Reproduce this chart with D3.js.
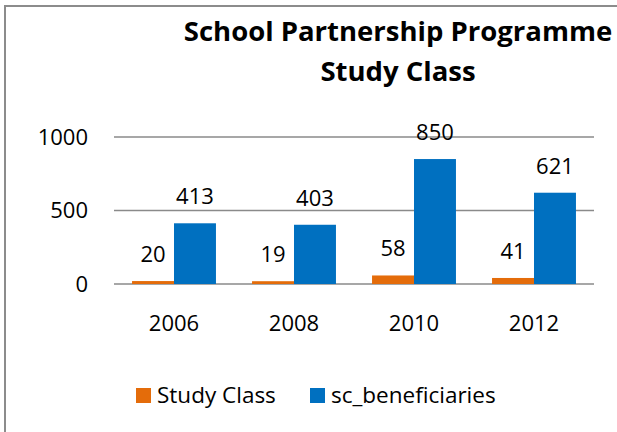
<!DOCTYPE html>
<html>
<head>
<meta charset="utf-8">
<script src="https://cdn.jsdelivr.net/npm/d3@7"></script>
<style>
	body { margin: 0; background: #fff; }
	text { font-family: "Open Sans", "Noto Sans", sans-serif; fill: #000; }
</style>
</head>
<body>
<div id="chart"></div>
<script>
// data
var years = ["2006", "2008", "2010", "2012"];
var seriesNames = ["Study Class", "sc_beneficiaries"];
var studyClass = [20, 19, 58, 41];
var scBeneficiaries = [413, 403, 850, 621];
var yTicks = [0, 500, 1000];
var colors = ["#E46C0A", "#0070C0"];

drawchart()

function drawchart() {
	var W = 617, H = 432;
	var svg = d3.select("#chart").append("svg")
		.attr("width", W)
		.attr("height", H);

	// chart border (only left/top show in the picture)
	svg.append("rect")
		.attr("x", 5).attr("y", 6)
		.attr("width", W + 20).attr("height", H + 20)
		.attr("fill", "none")
		.attr("stroke", "#8c8c8c")
		.attr("stroke-width", 2);

	// title
	var title = svg.append("text")
		.attr("text-anchor", "middle")
		.style("font-weight", "bold")
		.style("font-size", "27.5px");
	title.append("tspan").attr("x", 398).attr("y", 41).text("School Partnership Programme");
	title.append("tspan").attr("x", 398).attr("y", 81).text("Study Class");

	var x0 = d3.scaleBand().domain(years).range([114, 594]);
	var x1 = d3.scaleBand().domain(seriesNames).range([0, x0.bandwidth()]).paddingOuter(0.43);
	var y = d3.scaleLinear().domain([0, 1000]).range([284, 137]);

	// gridlines
	svg.append("g").selectAll("line")
		.data(yTicks)
		.enter().append("line")
		.attr("x1", 114).attr("x2", 594)
		.attr("y1", d => y(d)).attr("y2", d => y(d))
		.attr("stroke", "#8a8a8a")
		.attr("stroke-width", 1.5);

	// y axis labels
	var yAxis = d3.axisLeft(y).tickValues(yTicks).tickFormat(d3.format("d")).tickSize(0).tickPadding(26);
	var ya = svg.append("g").attr("transform", "translate(114,0)").call(yAxis);
	ya.select(".domain").remove();
	ya.selectAll("text").style("font-size", "22px").attr("font-family", null);

	// x axis labels
	var xAxis = d3.axisBottom(x0).tickSize(0).tickPadding(31);
	var xa = svg.append("g").attr("transform", "translate(0,284)").call(xAxis);
	xa.select(".domain").remove();
	xa.selectAll("text").style("font-size", "22px").attr("font-family", null);

	var rows = years.map((yr, i) => ({ year: yr, values: [studyClass[i], scBeneficiaries[i]] }));

	var groups = svg.append("g").selectAll("g")
		.data(rows)
		.enter().append("g")
		.attr("transform", d => `translate(${x0(d.year)},0)`);

	groups.selectAll("rect")
		.data(d => d.values.map((v, j) => ({ name: seriesNames[j], value: v, c: colors[j] })))
		.enter().append("rect")
		.attr("x", d => x1(d.name))
		.attr("width", x1.bandwidth())
		.attr("y", d => y(d.value))
		.attr("height", d => y(0) - y(d.value))
		.attr("fill", d => d.c);

	groups.selectAll("text")
		.data(d => d.values.map((v, j) => ({ name: seriesNames[j], value: v })))
		.enter().append("text")
		.attr("x", d => x1(d.name) + x1.bandwidth() / 2)
		.attr("y", d => y(d.value) - 19)
		.attr("text-anchor", "middle")
		.style("font-size", "22px")
		.text(d => d.value);

	// legend
	var legend = svg.append("g").selectAll("g")
		.data(seriesNames)
		.enter().append("g")
		.attr("transform", (d, i) => `translate(${[136, 310][i]},388)`);
	legend.append("rect")
		.attr("width", 15).attr("height", 15)
		.attr("fill", (d, i) => colors[i]);
	legend.append("text")
		.attr("x", 21).attr("y", 15)
		.style("font-size", "22.5px")
		.text(d => d);
}
</script>
</body>
</html>
